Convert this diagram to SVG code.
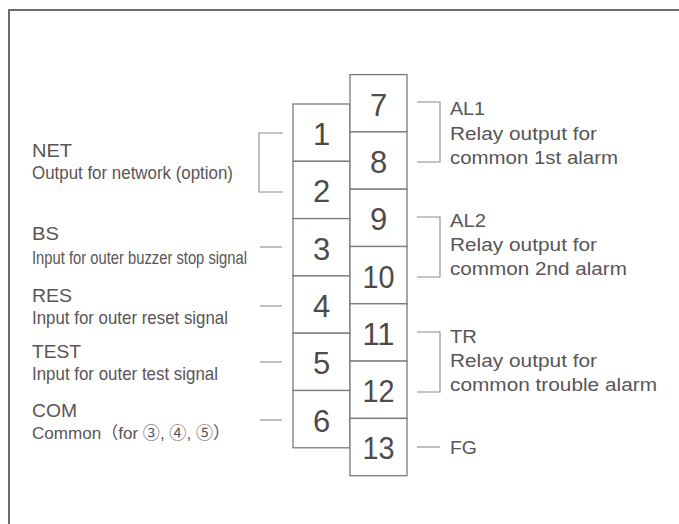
<svg xmlns="http://www.w3.org/2000/svg" width="679" height="524" viewBox="0 0 679 524">
<style>
.frame{fill:none;stroke:#6a6a6a;stroke-width:2}
.box{fill:#fff;stroke:#7a7a7a;stroke-width:1.3}
.num{font-family:"Liberation Sans","Noto Sans",sans-serif;font-size:31px;fill:#4e4a4a;text-anchor:middle}
.hd{font-family:"Liberation Sans","Noto Sans",sans-serif;font-size:19px;fill:#595555}
.sub{font-family:"Liberation Sans","Noto Sans CJK JP",sans-serif;font-size:18.5px;fill:#595555}
.rt{font-family:"Liberation Sans","Noto Sans",sans-serif;font-size:17.5px;fill:#595555}
.ln{fill:none;stroke:#8a8a8a;stroke-width:1.1}
</style>
<rect width="679" height="524" fill="#fff"/>
<path class="frame" d="M9,524 V10 H679"/>

<g id="connectors">
  <path class="ln" d="M283,133 H259 V192 H283"/>
  <line class="ln" x1="260" y1="247" x2="282" y2="247"/>
  <line class="ln" x1="260" y1="306" x2="282" y2="306"/>
  <line class="ln" x1="260" y1="362" x2="282" y2="362"/>
  <line class="ln" x1="260" y1="420" x2="282" y2="420"/>
  <path class="ln" d="M417,102 H440 V162 H417"/>
  <path class="ln" d="M417,217 H440 V277 H417"/>
  <path class="ln" d="M417,332 H440 V392 H417"/>
  <line class="ln" x1="417" y1="447" x2="440" y2="447"/>
</g>

<g id="t1"><rect class="box" x="293" y="104" width="57" height="57.3"/><text class="num" x="321.5" y="145">1</text></g>
<g id="t2"><rect class="box" x="293" y="161.3" width="57" height="57.3"/><text class="num" x="321.5" y="202.3">2</text></g>
<g id="t3"><rect class="box" x="293" y="218.6" width="57" height="57.3"/><text class="num" x="321.5" y="259.6">3</text></g>
<g id="t4"><rect class="box" x="293" y="275.9" width="57" height="57.3"/><text class="num" x="321.5" y="316.9">4</text></g>
<g id="t5"><rect class="box" x="293" y="333.2" width="57" height="57.3"/><text class="num" x="321.5" y="374.2">5</text></g>
<g id="t6"><rect class="box" x="293" y="390.5" width="57" height="57.3"/><text class="num" x="321.5" y="431.5">6</text></g>

<g id="t7"><rect class="box" x="350" y="74.6" width="57" height="57.3"/><text class="num" x="378.5" y="115.6">7</text></g>
<g id="t8"><rect class="box" x="350" y="131.9" width="57" height="57.3"/><text class="num" x="378.5" y="172.9">8</text></g>
<g id="t9"><rect class="box" x="350" y="189.2" width="57" height="57.3"/><text class="num" x="378.5" y="230.2">9</text></g>
<g id="t10"><rect class="box" x="350" y="246.5" width="57" height="57.3"/><text class="num" x="378.5" y="287.5" textLength="32" lengthAdjust="spacingAndGlyphs">10</text></g>
<g id="t11"><rect class="box" x="350" y="303.8" width="57" height="57.3"/><text class="num" x="378.5" y="344.8" textLength="32" lengthAdjust="spacingAndGlyphs">11</text></g>
<g id="t12"><rect class="box" x="350" y="361.1" width="57" height="57.3"/><text class="num" x="378.5" y="402.1" textLength="32" lengthAdjust="spacingAndGlyphs">12</text></g>
<g id="t13"><rect class="box" x="350" y="418.4" width="57" height="57.3"/><text class="num" x="378.5" y="459.4" textLength="32" lengthAdjust="spacingAndGlyphs">13</text></g>

<g id="label-net">
  <text class="hd" x="32" y="157" textLength="40" lengthAdjust="spacingAndGlyphs">NET</text>
  <text class="sub" x="32" y="179" textLength="201" lengthAdjust="spacingAndGlyphs">Output for network (option)</text>
</g>
<g id="label-bs">
  <text class="hd" x="32" y="240" textLength="27" lengthAdjust="spacingAndGlyphs">BS</text>
  <text class="sub" x="32" y="264" textLength="215" lengthAdjust="spacingAndGlyphs">Input for outer buzzer stop signal</text>
</g>
<g id="label-res">
  <text class="hd" x="32" y="301.7" textLength="40" lengthAdjust="spacingAndGlyphs">RES</text>
  <text class="sub" x="32" y="324" textLength="196" lengthAdjust="spacingAndGlyphs">Input for outer reset signal</text>
</g>
<g id="label-test">
  <text class="hd" x="32" y="358.3" textLength="49" lengthAdjust="spacingAndGlyphs">TEST</text>
  <text class="sub" x="32" y="380" textLength="186" lengthAdjust="spacingAndGlyphs">Input for outer test signal</text>
</g>
<g id="label-com">
  <text class="hd" x="32" y="416.5" textLength="45" lengthAdjust="spacingAndGlyphs">COM</text>
  <text class="sub" x="32" y="438.5" style="font-size:17px" textLength="198" lengthAdjust="spacingAndGlyphs">Common（for ③, ④, ⑤）</text>
</g>

<g id="label-al1">
  <text class="rt" x="450" y="115" textLength="35" lengthAdjust="spacingAndGlyphs">AL1</text>
  <text class="rt" x="450" y="139.5" textLength="147" lengthAdjust="spacingAndGlyphs">Relay output for</text>
  <text class="rt" x="450" y="164" textLength="168" lengthAdjust="spacingAndGlyphs">common 1st alarm</text>
</g>
<g id="label-al2">
  <text class="rt" x="450" y="227" textLength="36" lengthAdjust="spacingAndGlyphs">AL2</text>
  <text class="rt" x="450" y="251" textLength="147" lengthAdjust="spacingAndGlyphs">Relay output for</text>
  <text class="rt" x="450" y="275" textLength="177" lengthAdjust="spacingAndGlyphs">common 2nd alarm</text>
</g>
<g id="label-tr">
  <text class="rt" x="450" y="343" textLength="27" lengthAdjust="spacingAndGlyphs">TR</text>
  <text class="rt" x="450" y="367" textLength="147" lengthAdjust="spacingAndGlyphs">Relay output for</text>
  <text class="rt" x="450" y="391" textLength="207" lengthAdjust="spacingAndGlyphs">common trouble alarm</text>
</g>
<g id="label-fg">
  <text class="rt" x="450" y="454" textLength="27" lengthAdjust="spacingAndGlyphs">FG</text>
</g>
</svg>
